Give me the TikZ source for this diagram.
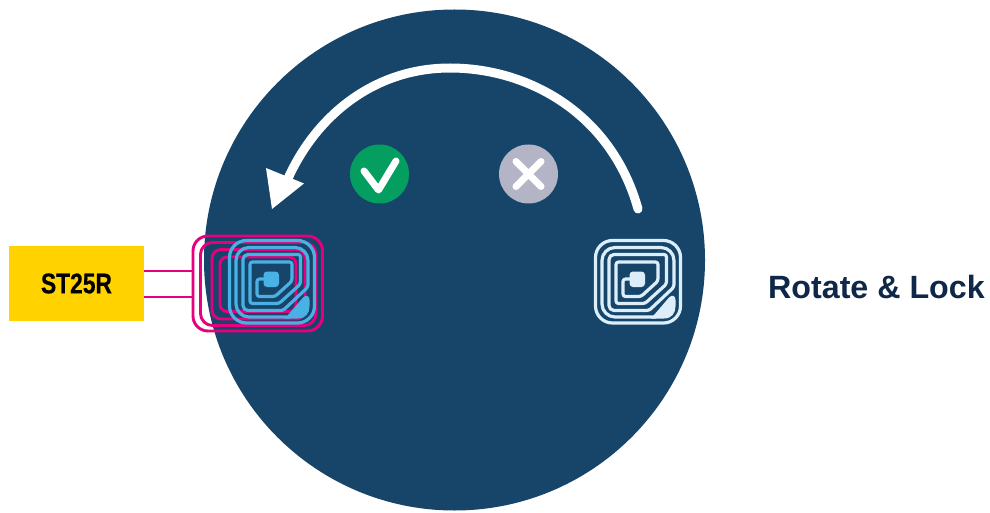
\documentclass[tikz,border=0pt]{standalone}
\usepackage{fontspec}
\setmainfont{Liberation Sans}
\definecolor{navy}{HTML}{17456A}
\definecolor{pinkloop}{HTML}{E6007E}
\definecolor{tagblue}{HTML}{49B1E4}
\definecolor{tagpale}{HTML}{DCEEFA}
\definecolor{stgold}{HTML}{FFD200}
\definecolor{okgreen}{HTML}{049F60}
\definecolor{nogrey}{HTML}{B3B4C6}
\definecolor{titlenavy}{HTML}{0F2748}
\tikzset{
 loop/.style={draw=pinkloop,line width=2.9pt,rounded corners=#1},
 taglinestyle/.style={line width=3.2pt,line join=round},
 badge/.style={circle,minimum size=59pt,inner sep=0pt},
 mark line/.style={draw=white,line width=7pt,line cap=round,line join=round}
}
\newcommand{\tagicon}[3]{%
 \begin{scope}[shift={(#1,#2)}]
  \begin{scope}[taglinestyle,draw=#3]
  \draw[rounded corners=17pt] (229.5,240.5) rectangle (314.5,323);
  \draw[rounded corners=2.5pt] (266,279) -- (257,279) -- (257,296.5) -- (275,296.5) -- (292,281) -- (292,262) -- (250,262) -- (250,303.5) -- (279,303.5) -- (300.5,284) -- (300.5,254.5) [rounded corners=5pt] -- (243,254.5) -- (243,310.5) [rounded corners=2.5pt] -- (283,310.5) -- (308,287) [rounded corners=13pt] -- (308,247.5) -- (236,247.5) -- (236,317) [sharp corners] -- (290,317);
  \end{scope}
  \fill[#3,rounded corners=3.5pt] (263.5,271.5) rectangle (279,287);
  \fill[#3] (285,318.5) -- (298,318.5) .. controls (306,318.5) and (309.5,313) .. (309.5,306) -- (309.5,300) .. controls (309.5,295.5) and (306,294.5) .. (303,297.5) -- cycle;
 \end{scope}}
\begin{document}
\begin{tikzpicture}[x=1pt,y=-1pt]
\useasboundingbox (0,0) rectangle (990,513);
\fill[white] (0,0) rectangle (990,513);
\node[circle,fill=navy,minimum size=501pt,inner sep=0pt] (disc) at (454.5,260) {};
\node[fill=stgold,minimum width=135pt,minimum height=75pt,inner sep=0pt] (reader) at (76.5,283.5) {\raisebox{-3.5pt}{\fontsize{28.5}{28.5}\selectfont\bfseries\addfontfeature{FakeStretch=0.8,FakeBold=0.4}ST25R}};
\coordinate (loopA) at (193,271);
\coordinate (loopB) at (193,297);
\draw[draw=pinkloop,line width=2.9pt] (reader.east |- loopA) -- (loopA);
\draw[draw=pinkloop,line width=2.9pt] (reader.east |- loopB) -- (loopB);
\draw[loop=15pt] (193,236) rectangle (322.5,331);
\draw[loop=12pt] (200.5,242.5) rectangle (316,325.5);
\draw[loop=9pt] (212,249.5) rectangle (305,319);
\draw[loop=7pt] (220,257) rectangle (296,311.5);
\tagicon{0}{0}{tagblue}
\tagicon{366}{0}{tagpale}
\node[badge,fill=okgreen] (ok) at (379.5,174) {};
\draw[mark line] (364,171) -- (378.5,190) -- (396,161);
\node[badge,fill=nogrey] (no) at (528.5,174) {};
\draw[mark line] (516,161.5) -- (541,186.5) (541,161.5) -- (516,186.5);
\coordinate (arcstart) at (638,209);
\coordinate (arcend) at (286,183);
\draw[white,line width=9pt,line cap=round] (arcstart) .. controls (612,115) and (530,68) .. (450,68) .. controls (375,68) and (315,115) .. (arcend);
\fill[white] (266,168) -- (304,183.5) -- (272,209) -- cycle;
\node[text=titlenavy,font=\fontsize{32.2}{32.2}\selectfont\bfseries,anchor=base west,inner sep=0pt] (title) at (768,298.5) {Rotate \& Lock};
\end{tikzpicture}
\end{document}
